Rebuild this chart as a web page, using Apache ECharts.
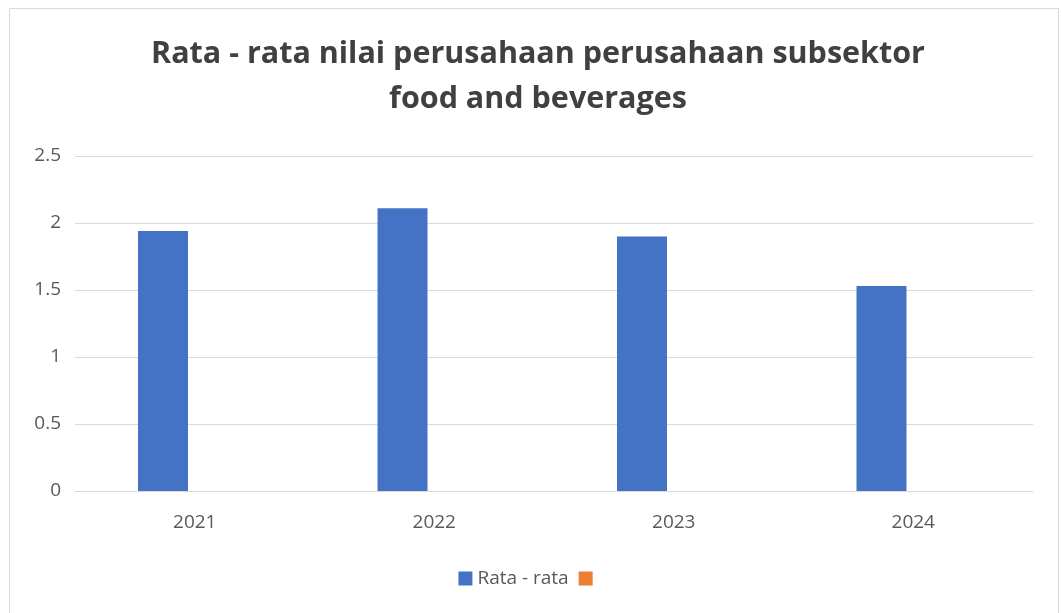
<!DOCTYPE html>
<html><head><meta charset="utf-8">
<script src="https://cdn.jsdelivr.net/npm/echarts@6/dist/echarts.min.js"></script>
<style>html,body{margin:0;padding:0;background:#fff}#c{width:1061px;height:613px}</style>
</head><body><div id="c"></div>
<script>
const categories = ['2021', '2022', '2023', '2024'];
const rataRata = [1.94, 2.11, 1.90, 1.53];
const seriesB = [null, null, null, null];
const yTicks = [0, 0.5, 1, 1.5, 2, 2.5];
const titleText = 'Rata - rata nilai perusahaan perusahaan subsektor\nfood and beverages';

const chart = echarts.init(document.getElementById('c'), null, {renderer: 'canvas'});
const font = '"Open Sans", "Noto Sans", sans-serif';
chart.setOption({
  animation: false,
  backgroundColor: '#fff',
  graphic: [
    {type: 'rect', shape: {x: 9.5, y: 8.5, width: 1049, height: 620}, style: {fill: 'none', stroke: '#d9d9d9', lineWidth: 1}, silent: true},
    {type: 'text', x: 538, y: 32, silent: true,
     style: {text: titleText, textAlign: 'center', textVerticalAlign: 'top', fontFamily: font, fontWeight: 'bold', fontSize: 30.5, fill: '#404040', lineHeight: 45}}
  ],
  legend: {
    bottom: 20, left: 'center', itemWidth: 14, itemHeight: 14, itemGap: 10, icon: 'rect',
    textStyle: {fontFamily: font, fontSize: 19, color: '#595959'},
    data: ['Rata - rata', ' ']
  },
  grid: {left: 75, right: 28, top: 156, bottom: 122, containLabel: false},
  xAxis: {
    type: 'category', data: categories,
    axisLine: {lineStyle: {color: '#d9d9d9', width: 1}},
    axisTick: {show: false},
    axisLabel: {fontFamily: font, fontSize: 19, color: '#595959', margin: 22}
  },
  yAxis: {
    type: 'value', min: 0, max: 2.5, interval: 0.5,
    axisLine: {show: false}, axisTick: {show: false},
    splitLine: {lineStyle: {color: '#d9d9d9', width: 1}},
    axisLabel: {fontFamily: font, fontSize: 19, color: '#595959', margin: 14}
  },
  series: [
    {name: 'Rata - rata', type: 'bar', data: rataRata, barWidth: 50, barGap: '27%', itemStyle: {color: '#4472c4'}},
    {name: ' ', type: 'bar', data: seriesB, barWidth: 50, itemStyle: {color: '#ed7d31'}}
  ]
});
</script></body></html>
